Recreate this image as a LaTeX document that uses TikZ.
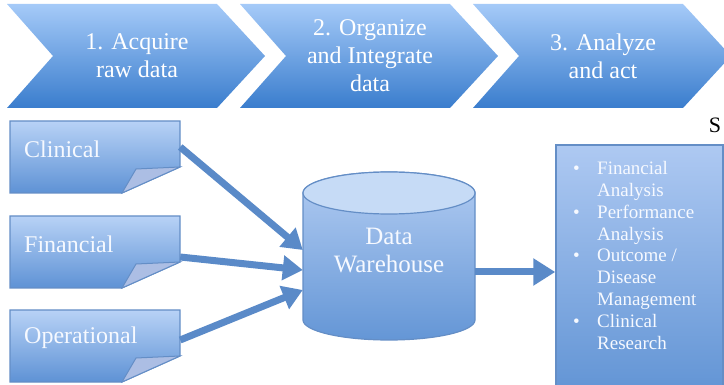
\documentclass[tikz,border=0pt]{standalone}
\usepackage{fontspec}
\setmainfont{Liberation Serif}
\usetikzlibrary{arrows.meta}
\definecolor{chevtop}{RGB}{165,202,248}
\definecolor{chevbot}{RGB}{58,125,205}
\definecolor{notetop}{RGB}{184,210,246}
\definecolor{notebot}{RGB}{94,146,213}
\definecolor{edgeblue}{RGB}{100,142,198}
\definecolor{arrblue}{RGB}{90,138,200}
\definecolor{foldfill}{RGB}{172,190,228}
\definecolor{cyltop}{RGB}{198,219,246}
\definecolor{cylbodytop}{RGB}{178,204,242}
\definecolor{cylbodybot}{RGB}{100,150,214}
\definecolor{restop}{RGB}{174,201,242}
\definecolor{resbot}{RGB}{96,147,212}
\definecolor{softwhite}{RGB}{246,249,255}
\newcommand\resbullet{\makebox[24pt][l]{\textbullet}}
\newcommand\mynote[3]{%
  \shade[notebody] (10,-#2) -- (180,-#2) -- (180,-#2-46) -- (122,-#2-72) -- (10,-#2-72) -- cycle;
  \filldraw[fill=foldfill,draw=edgeblue,line width=1pt] (122,-#2-72) -- (136,-#2-48) -- (180,-#2-46) -- cycle;
  \node[boxnode] (#1) at (95,-#2-36) {};
  \node[notetext] (#1t) at (24,-#2-28) {#3};
}
\begin{document}
\begin{tikzpicture}[x=1pt,y=1pt,
  chev/.style={top color=chevtop,bottom color=chevbot,draw=none},
  chevtext/.style={text=white,font=\fontsize{24}{28}\selectfont,align=center,inner sep=0},
  notebody/.style={top color=notetop,bottom color=notebot,draw=edgeblue,line width=1.2pt},
  boxnode/.style={draw=none,minimum width=170pt,minimum height=72pt,inner sep=0},
  notetext/.style={text=softwhite,font=\fontsize{24}{28}\selectfont,anchor=west,inner sep=0},
  arr/.style={draw=arrblue,line width=7pt,-{Triangle[length=20pt,width=24pt]}},
  arrbig/.style={draw=arrblue,line width=7pt,-{Triangle[length=22pt,width=26pt]}},
  cylbody/.style={top color=cylbodytop,bottom color=cylbodybot,draw=edgeblue,line width=1.2pt},
  dwtext/.style={text=softwhite,font=\fontsize{25}{28}\selectfont,align=center,inner sep=0},
  resbox/.style={top color=restop,bottom color=resbot,draw=edgeblue,line width=1.5pt,inner sep=0},
  listtext/.style={text=softwhite,inner sep=0,anchor=north west}
]
\useasboundingbox (0,0) rectangle (724,-385);
\clip (0,0) rectangle (724,-385);

% chevrons
\foreach \dx in {0,233,466}{
  \shade[chev,xshift=\dx] (7,-4) -- (217,-4) -- (265,-56) -- (217,-108) -- (7,-108) -- (53,-56) -- cycle;
}
\node[chevtext] (c1) at (137,-56) {1. Acquire\\raw data};
\node[chevtext] (c2) at (370,-56) {2. Organize\\and Integrate\\data};
\node[chevtext] (c3) at (603,-56) {3. Analyze\\and act};

% source notes
\mynote{clin}{121}{Clinical}
\mynote{fin}{216}{Financial}
\mynote{ops}{310}{Operational}

% data warehouse cylinder
\node[draw=none,minimum width=172pt,minimum height=168pt,inner sep=0] (dw) at (389,-256) {};
\shade[cylbody] (303,-193) -- (303,-320) arc[start angle=180,end angle=360,x radius=86,y radius=20] -- (475,-193) arc[start angle=0,end angle=180,x radius=86,y radius=21] -- cycle;
\filldraw[fill=cyltop,draw=edgeblue,line width=1.2pt] (389,-193) ellipse[x radius=86,y radius=21];
\node[dwtext] (dwt) at (389,-251) {Data\\Warehouse};

% results box
\node[resbox,minimum width=167pt,minimum height=254pt] (res) at (639.5,-272) {};
\node[listtext] (list) at (573,-161) {\parbox[t]{150pt}{\raggedright\fontsize{19}{21.9}\selectfont
\resbullet Financial\\
\hspace*{24pt}Analysis\\
\resbullet Performance\\
\hspace*{24pt}Analysis\\
\resbullet Outcome /\\
\hspace*{24pt}Disease\\
\hspace*{24pt}Management\\
\resbullet Clinical\\
\hspace*{24pt}Research}};

% connectors
\draw[arr] ([yshift=10pt]clin.east) -- ([yshift=6pt]dw.west);
\draw[arr] ([yshift=-5pt]fin.east) -- ([yshift=-14pt]dw.west);
\draw[arr] ([yshift=6pt]ops.east) -- ([yshift=-34pt]dw.west);
\draw[arrbig] ([yshift=-16pt]dw.east) -- (res.west);

% stray letter at the right
\node[font=\fontsize{22}{22}\selectfont,inner sep=0] (s) at (715,-125) {S};
\end{tikzpicture}
\end{document}
